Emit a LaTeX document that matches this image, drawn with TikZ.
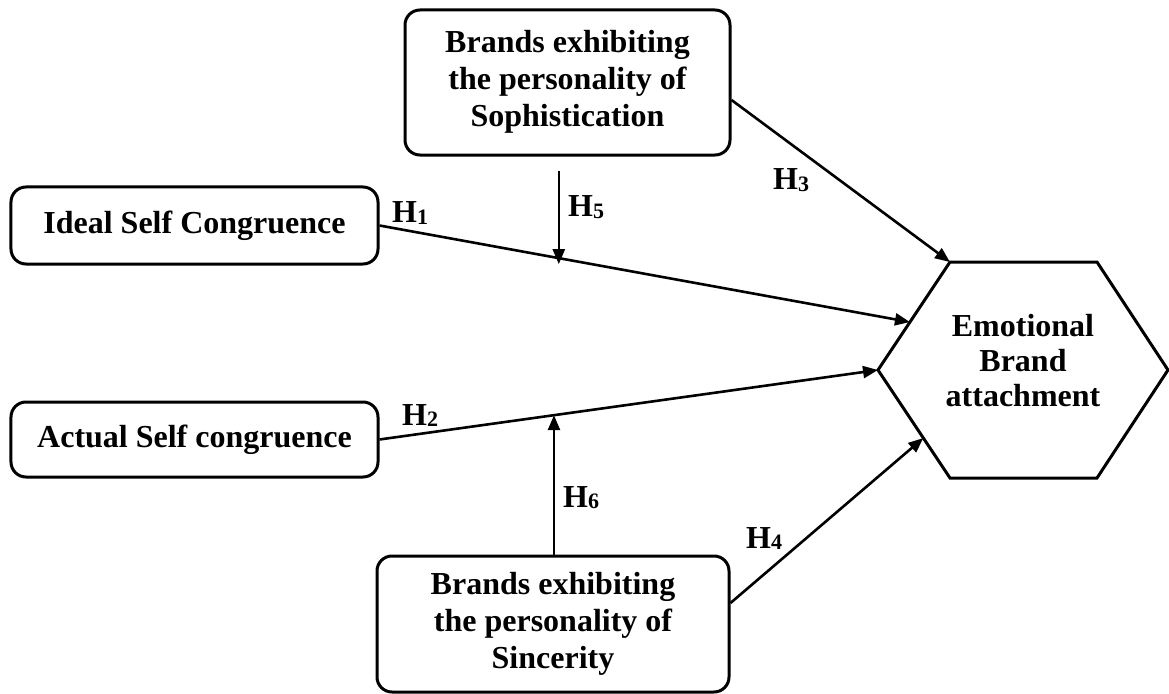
\documentclass[tikz,border=0pt]{standalone}
\usepackage{fontspec}
\setmainfont{Liberation Serif}
\usetikzlibrary{arrows.meta,calc}
\newcommand{\hyp}[1]{H{\fontsize{22bp}{22bp}\selectfont\raisebox{-1.5bp}{#1}}}
\begin{document}
\begin{tikzpicture}[x=1bp,y=-1bp,
  every node/.style={font=\bfseries\fontsize{32bp}{37bp}\selectfont},
  box/.style={draw, line width=3bp, rounded corners=15bp, align=center, inner sep=0pt},
  conn/.style={line width=2.6bp, -{Triangle[length=15bp,width=12bp]}},
  hlabel/.style={anchor=base west, inner sep=0pt}]
\useasboundingbox (0,0) rectangle (1169,694);
% boxes
\node[box, minimum width=325bp, minimum height=145bp] (top) at (567.5,82.5)
  {\raisebox{-5bp}{\begin{tabular}{@{}c@{}}Brands exhibiting\\the personality of\\Sophistication\end{tabular}}};
\node[box, minimum width=367bp, minimum height=77bp] (ideal) at (194.5,225.5)
  {Ideal Self Congruence};
\node[box, minimum width=367bp, minimum height=75bp] (actual) at (194.5,439.5)
  {Actual Self congruence};
\node[box, minimum width=352bp, minimum height=136bp] (bot) at (553,624)
  {Brands exhibiting\\the personality of\\Sincerity};
% hexagon
\coordinate (hL) at (878,370);
\coordinate (hTL) at (950,262);
\coordinate (hTR) at (1097,262);
\coordinate (hR) at (1168,370);
\coordinate (hBR) at (1097,478);
\coordinate (hBL) at (950,478);
\draw[line width=3bp, line join=miter] (hL) -- (hTL) -- (hTR) -- (hR) -- (hBR) -- (hBL) -- cycle;
\node[align=center, inner sep=0pt, font=\bfseries\fontsize{32bp}{35bp}\selectfont] (emo) at (1023,361) {Emotional\\Brand\\attachment};
\coordinate (hUp) at ($(hL)!0.444!(hTL)$);
\coordinate (hLo) at ($(hL)!0.63!(hBL)$);
% main connectors
\draw[conn] (ideal.east) -- (hUp) coordinate[pos=0.338] (m5);
\draw[conn] (actual.east) -- (hL) coordinate[pos=0.35] (m6);
\draw[conn] ([yshift=-17.5bp]top.east) -- (hTL);
\draw[conn] ([yshift=21bp]bot.east) -- (hLo);
% moderators
\draw[conn, shorten <=14bp, shorten >=-6bp] (top.south -| m5) -- (m5);
\draw[conn] (bot.north -| m6) -- (m6);
% labels
\node[hlabel] (l1) at (392,223) {\hyp{1}};
\node[hlabel] (l2) at (402,425) {\hyp{2}};
\node[hlabel] (l3) at (773,190) {\hyp{3}};
\node[hlabel] (l4) at (746,548) {\hyp{4}};
\node[hlabel] (l5) at (568,217) {\hyp{5}};
\node[hlabel] (l6) at (563,507) {\hyp{6}};
\end{tikzpicture}
\end{document}
